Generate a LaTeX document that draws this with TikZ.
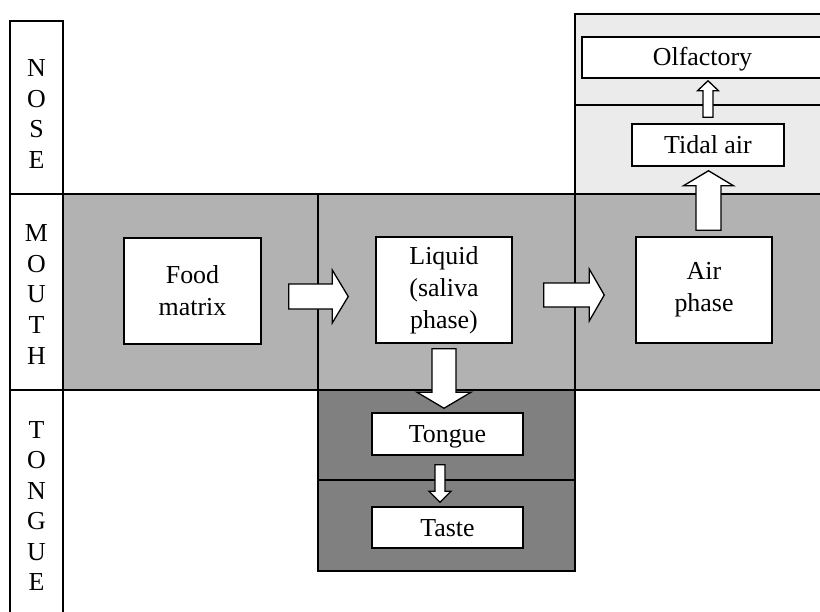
\documentclass[tikz,border=0pt]{standalone}
\usepackage{fontspec}
\setmainfont{Liberation Serif}
\usetikzlibrary{calc}
\definecolor{nosegray}{gray}{0.92}
\definecolor{mouthgray}{gray}{0.70}
\definecolor{tonguegray}{gray}{0.50}
\newcommand\blockarrow[5]{%
  \coordinate (ba-s) at #1;
  \coordinate (ba-e) at #2;
  \coordinate (ba-b) at ($(ba-e)!#5!(ba-s)$);
  \draw[blk] ($(ba-s)!#3!90:(ba-e)$) -- ($(ba-b)!#3!-90:(ba-s)$) -- ($(ba-b)!#4!-90:(ba-s)$) -- (ba-e) -- ($(ba-b)!#4!90:(ba-s)$) -- ($(ba-b)!#3!90:(ba-s)$) -- ($(ba-s)!#3!-90:(ba-e)$) -- cycle;}
\begin{document}
\begin{tikzpicture}[x=1bp,y=-1bp, line width=1.5bp,
  box/.style={draw, fill=white, inner sep=0pt, align=center, font=\fontsize{26}{32}\selectfont},
  onebox/.style={box, text height=17bp, text depth=0bp},
  side/.style={align=center, inner sep=0pt, font=\fontsize{26}{30.7}\selectfont},
  blk/.style={draw, fill=white, line width=1.3bp, line join=miter}]
\useasboundingbox (0,0) rectangle (820,612);
\clip (0,0) rectangle (820,612);
% regions
\fill[nosegray] (575,14) rectangle (830,194);
\fill[mouthgray] (63,194) rectangle (830,390);
\fill[tonguegray] (318,390) rectangle (575,571);
\draw (830,14) -- (575,14) -- (575,390);
\draw (575,105) -- (830,105);
\draw (10,194) -- (830,194);
\draw (10,390) -- (830,390);
\draw (318,194) -- (318,571) -- (575,571) -- (575,390);
\draw (318,480) -- (575,480);
\draw (10,630) -- (10,21) -- (63,21) -- (63,630);
% side labels
\node[side] (noselbl) at (36.5,114) {N\\O\\S\\E};
\node[side] (mouthlbl) at (36.5,294.5) {M\\O\\U\\T\\H};
\node[side] (tonguelbl) at (36.5,506) {T\\O\\N\\G\\U\\E};
% boxes
\node[box, minimum width=137bp, minimum height=106bp] (food) at (192.5,291) {Food\\matrix};
\node[box, minimum width=136bp, minimum height=106bp] (liquid) at (444,290) {Liquid\\(saliva\\phase)};
\node[box, minimum width=136bp, minimum height=106bp] (air) at (704,290) {Air\\phase};
\node[onebox, minimum width=152bp, minimum height=42bp] (tidal) at (708,145) {Tidal air};
\node[onebox, minimum width=241bp, minimum height=41bp] (olf) at (702.5,57.5) {Olfactory};
\node[onebox, minimum width=151bp, minimum height=42bp] (tongue) at (447.5,434) {Tongue};
\node[onebox, minimum width=151bp, minimum height=41bp] (taste) at (447.5,527.5) {Taste};
% block arrows
\blockarrow{([xshift=27bp,yshift=-5.5bp]food.east)}{([xshift=-27bp,yshift=-6.5bp]liquid.west)}{12.5bp}{26.5bp}{16bp}
\blockarrow{([xshift=31bp,yshift=-5bp]liquid.east)}{([xshift=-31bp,yshift=-5bp]air.west)}{12bp}{26bp}{15bp}
\blockarrow{([yshift=-5bp]liquid.south)}{([xshift=-3.5bp,yshift=4bp]tongue.north)}{12bp}{27bp}{16bp}
\blockarrow{([xshift=4.5bp,yshift=6bp]air.north)}{([xshift=0.5bp,yshift=-4bp]tidal.south)}{12.5bp}{25bp}{15bp}
\blockarrow{([yshift=6bp]tidal.north)}{([xshift=5.5bp,yshift=-2bp]olf.south)}{5bp}{10.5bp}{10bp}
\blockarrow{([xshift=-7.5bp,yshift=-9bp]tongue.south)}{([xshift=-7.5bp,yshift=4bp]taste.north)}{5bp}{11bp}{11bp}
\end{tikzpicture}
\end{document}
